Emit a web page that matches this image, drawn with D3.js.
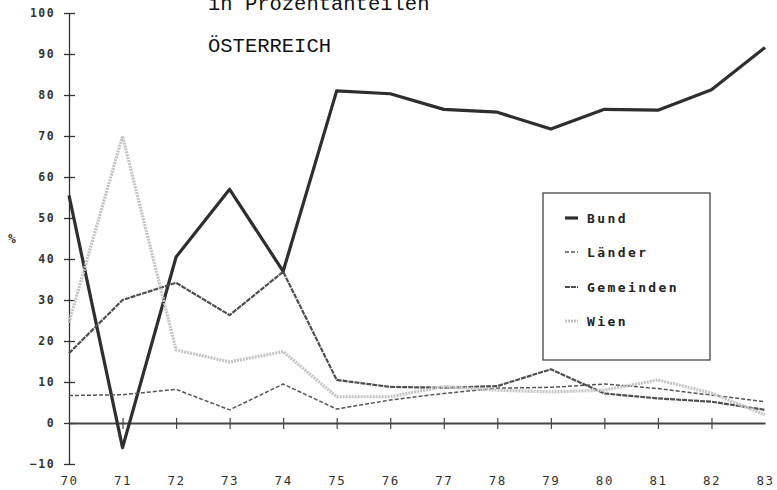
<!DOCTYPE html>
<html>
<head>
<meta charset="utf-8">
<script src="https://cdn.jsdelivr.net/npm/d3@7"></script>
<style>
  html, body { margin: 0; padding: 0; background: #fff; }
  svg { display: block; }
</style>
</head>
<body>
<script>
const years = [70, 71, 72, 73, 74, 75, 76, 77, 78, 79, 80, 81, 82, 83];
const bund = [55.5, -6, 40.5, 57, 37, 81, 80.3, 76.5, 75.8, 71.7, 76.5, 76.3, 81.3, 91.6];
const laender = [6.7, 6.9, 8.2, 3.2, 9.5, 3.4, 5.6, 7.2, 8.5, 8.7, 9.5, 8.4, 6.8, 5.2];
const gemeinden = [17, 30, 34.2, 26.3, 36.9, 10.5, 8.8, 8.6, 9, 13.1, 7.2, 6.0, 5.2, 3.2];
const wien = [24.5, 70, 17.8, 14.9, 17.4, 6.4, 6.4, 8.9, 8, 7.6, 8, 10.5, 7.3, 2];
const yTicks = [-10, 0, 10, 20, 30, 40, 50, 60, 70, 80, 90, 100];
const seriesNames = ["Bund", "Länder", "Gemeinden", "Wien"];
const titleLines = ["in Prozentanteilen", "ÖSTERREICH"];

const W = 777, H = 490;
const svg = d3.select("body").append("svg").attr("width", W).attr("height", H);

const x = d3.scaleLinear().domain([70, 83]).range([69, 765]);
const y = d3.scaleLinear().domain([-10, 100]).range([464, 13]);

const styles = [
  { stroke: "#2e2e2e", width: 3.2, dash: null },
  { stroke: "#555", width: 1.5, dash: "4,2" },
  { stroke: "#4e4e4e", width: 2.2, dash: "5,1" },
  { stroke: "#c4c4c4", width: 3.2, dash: "2,1" }
];
const allSeries = [bund, laender, gemeinden, wien];

// Title
svg.append("g").selectAll("text").data(titleLines).join("text")
  .attr("x", 208).attr("y", (d, i) => i === 0 ? 10 : 52)
  .attr("font-family", "Liberation Mono, Courier New, monospace")
  .attr("font-size", 20.5).attr("fill", "#111")
  .text(d => d);

// Y axis
const yAxis = d3.axisLeft(y).tickValues(yTicks).tickSize(0).tickPadding(14).tickFormat(d3.format("d"));
const gy = svg.append("g").attr("transform", `translate(${x(70)},0)`).call(yAxis);
gy.select(".domain").attr("stroke", "#333").attr("stroke-width", 1.3);
gy.selectAll(".tick text")
  .attr("font-family", "DejaVu Sans Mono, monospace").attr("font-weight", "bold")
  .attr("font-size", 11.5).attr("letter-spacing", 1.4).attr("fill", "#333");
gy.selectAll(".tick").append("line").attr("x1", -5).attr("x2", 6)
  .attr("stroke", "#333").attr("stroke-width", 1.3);

// X axis at y=0
const xAxis = d3.axisBottom(x).tickValues(years).tickSize(0).tickFormat(d3.format("d"));
const gx = svg.append("g").attr("transform", `translate(0,${y(0)})`).call(xAxis);
gx.select(".domain").attr("stroke", "#444").attr("stroke-width", 1.8);
gx.selectAll(".tick text")
  .attr("y", y(-10) - y(0) + 21).attr("dy", 0)
  .attr("font-family", "DejaVu Sans Mono, monospace")
  .attr("font-size", 12.5).attr("letter-spacing", 1.5).attr("fill", "#333");
gx.selectAll(".tick").filter(d => d > 70 && d < 83).append("line")
  .attr("y1", -5).attr("y2", 6).attr("stroke", "#444").attr("stroke-width", 1.2);

// "%" label
svg.append("text").attr("x", 12).attr("y", 243).attr("text-anchor", "middle")
  .attr("font-family", "DejaVu Sans Mono, monospace").attr("font-weight", "bold")
  .attr("font-size", 13).attr("fill", "#333").text("%");

// Lines
const line = d3.line().x((d, i) => x(years[i])).y(d => y(d));
svg.append("g").selectAll("path").data(allSeries).join("path")
  .attr("d", d => line(d))
  .attr("fill", "none")
  .attr("stroke", (d, i) => styles[i].stroke)
  .attr("stroke-width", (d, i) => styles[i].width)
  .attr("stroke-dasharray", (d, i) => styles[i].dash)
  .attr("stroke-linejoin", "round");

// Legend
const lg = svg.append("g");
lg.append("rect").attr("x", 543).attr("y", 193).attr("width", 167).attr("height", 167)
  .attr("fill", "#fff").attr("stroke", "#444").attr("stroke-width", 1.3);
const ly = [218, 252, 287, 321];
const items = lg.selectAll("g.item").data(seriesNames).join("g").attr("class", "item");
items.append("line")
  .attr("x1", 565).attr("x2", 578)
  .attr("y1", (d, i) => ly[i]).attr("y2", (d, i) => ly[i])
  .attr("stroke", (d, i) => styles[i].stroke)
  .attr("stroke-width", (d, i) => styles[i].width)
  .attr("stroke-dasharray", (d, i) => styles[i].dash);
items.append("text")
  .attr("x", 587).attr("y", (d, i) => ly[i] + 4.5)
  .attr("font-family", "DejaVu Sans Mono, monospace").attr("font-weight", "bold")
  .attr("font-size", 13).attr("letter-spacing", 2.4).attr("fill", "#222")
  .text(d => d);
</script>
</body>
</html>
